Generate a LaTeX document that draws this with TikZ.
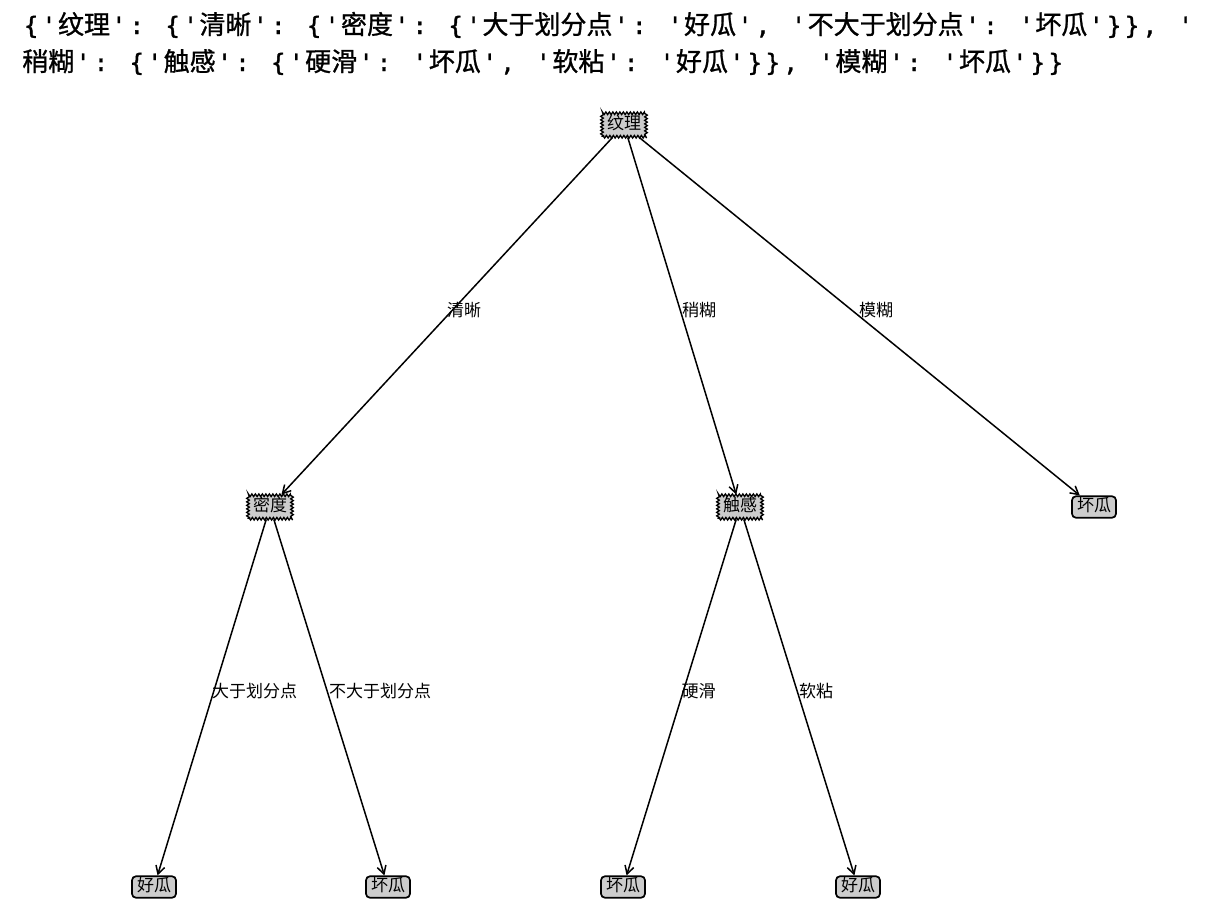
\documentclass[tikz,border=0pt]{standalone}
\usepackage{fontspec}
\setmainfont{Noto Sans CJK SC}
\newfontfamily\ttlcjk[FakeBold=1]{Noto Sans CJK SC}
\newfontfamily\monofont[Ligatures=TeXOff,FakeBold=1.5]{DejaVu Sans Mono}
\usetikzlibrary{decorations.pathmorphing,calc,arrows.meta}
\newlength\aw \setlength\aw{17.9pt}
\newcommand\ab[1]{\makebox[\aw][c]{\monofont\fontsize{24}{24}\selectfont #1}}
\newcommand\gp{\hspace*{\aw}}
\newcommand\xa{\ab{\{}\ab{'}}
\newcommand\xb{\ab{'}\ab{:}\gp}
\newcommand\xq{\ab{'}}
\newcommand\xc{\ab{'}\ab{,}\gp}
\newcommand\xe{\ab{'}\ab{\}}\ab{\}}\ab{,}\gp\ab{'}}
\newcommand\xf{\ab{'}\ab{\}}\ab{\}}\ab{,}\gp}
\newcommand\xg{\ab{'}\ab{\}}\ab{\}}}
\tikzset{
  dec/.style={draw, line width=1.3pt, fill=black!20, decorate,
    decoration={zigzag, segment length=3.5pt, amplitude=1.3pt},
    inner xsep=5pt, inner ysep=4pt, text height=12.5pt, text depth=3pt,
    font=\fontsize{17}{17}\selectfont},
  leaf/.style={draw, line width=1.7pt, fill=black!20, rounded corners=4pt,
    inner xsep=5pt, inner ysep=3pt, text height=12.5pt, text depth=3pt,
    font=\fontsize{17}{17}\selectfont},
  edge/.style={-{Straight Barb[length=8pt,width=9pt]}, line width=1.5pt},
  lbl/.style={anchor=base west, inner sep=0pt, font=\fontsize{17}{17}\selectfont},
  ttl/.style={anchor=base west, inner sep=0pt, font=\ttlcjk\fontsize{26}{26}\selectfont}
}
\begin{document}
\begin{tikzpicture}[x=1pt, y=-1pt]
\useasboundingbox[fill=white] (0,0) rectangle (1226,908);
\node[ttl] (t1) at (22,34) {\xa{}纹理\xb{}\xa{}清晰\xb{}\xa{}密度\xb{}\xa{}大于划分点\xb{}\xq{}好瓜\xc{}\xq{}不大于划分点\xb{}\xq{}坏瓜\xe};
\node[ttl] (t2) at (22,71) {稍糊\xb{}\xa{}触感\xb{}\xa{}硬滑\xb{}\xq{}坏瓜\xc{}\xq{}软粘\xb{}\xq{}好瓜\xf{}\xq{}模糊\xb{}\xq{}坏瓜\xg};

\node[dec] (root) at (624,125) {纹理};
\node[dec] (md) at (270,507) {密度};
\node[dec] (cg) at (740,507) {触感};
\node[leaf] (l1) at (1094,507) {坏瓜};
\node[leaf] (l2) at (154,887) {好瓜};
\node[leaf] (l3) at (388,887) {坏瓜};
\node[leaf] (l4) at (623,887) {坏瓜};
\node[leaf] (l5) at (858,887) {好瓜};

\draw[edge] (root) -- (md);
\draw[edge] (root) -- (cg);
\draw[edge] (root) -- (l1);
\draw[edge] (md) -- (l2);
\draw[edge] (md) -- (l3);
\draw[edge] (cg) -- (l4);
\draw[edge] (cg) -- (l5);

\node[lbl] (e1) at ($(root.center)!0.5!(md.center)$) {清晰};
\node[lbl] (e2) at ($(root.center)!0.5!(cg.center)$) {稍糊};
\node[lbl] (e3) at ($(root.center)!0.5!(l1.center)$) {模糊};
\node[lbl] (e4) at ($(md.center)!0.5!(l2.center)$) {大于划分点};
\node[lbl] (e5) at ($(md.center)!0.5!(l3.center)$) {不大于划分点};
\node[lbl] (e6) at ($(cg.center)!0.5!(l4.center)$) {硬滑};
\node[lbl] (e7) at ($(cg.center)!0.5!(l5.center)$) {软粘};
\end{tikzpicture}
\end{document}
